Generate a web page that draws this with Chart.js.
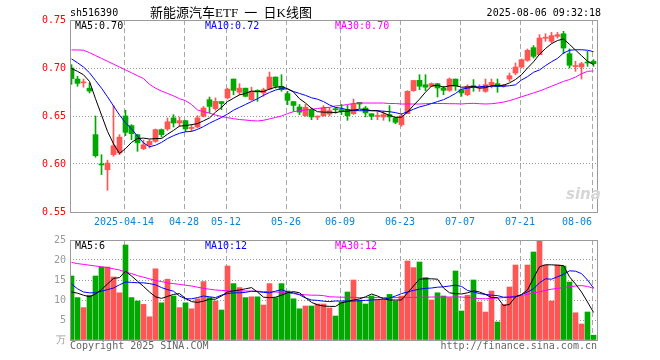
<!DOCTYPE html>
<html>
<head>
<meta charset="utf-8">
<script src="https://cdn.jsdelivr.net/npm/chart.js@4.4.1/dist/chart.umd.min.js"></script>
<style>
  html, body { margin: 0; padding: 0; background: #fff; }
  #wrap { position: relative; width: 660px; height: 360px; overflow: hidden; }
  canvas { position: absolute; left: 0; }
  .t { position: absolute; font: 10px/12px "DejaVu Sans Mono", monospace; white-space: pre; }
</style>
</head>
<body>
<div id="wrap">
  <canvas id="price" width="660" height="230" style="top:0"></canvas>
  <canvas id="vol" width="660" height="130" style="top:230px"></canvas>
  <div class="t" style="left:70px;top:7px;color:#000">sh516390</div>
  <div class="t" style="left:150px;top:4px;font:13px/17px 'Liberation Serif','Noto Sans CJK SC';word-spacing:3px;color:#000">新能源汽车ETF 一 日K线图</div>
  <div class="t" style="right:59px;top:7px;color:#000">2025-08-06 09:32:18</div>
  <div class="t" style="left:75px;top:20px;color:#000">MA5:0.70</div>
  <div class="t" style="left:205px;top:20px;color:#0000ff">MA10:0.72</div>
  <div class="t" style="left:335px;top:20px;color:#ff00ff">MA30:0.70</div>
  <div class="t" style="left:75px;top:240px;color:#000">MA5:6</div>
  <div class="t" style="left:205px;top:240px;color:#0000ff">MA10:12</div>
  <div class="t" style="left:335px;top:240px;color:#ff00ff">MA30:12</div>
  <div class="t" style="left:566px;top:186px;font:italic bold 15px/17px 'DejaVu Sans';color:#d6d6d6">sina</div>
  <div class="t" style="left:70px;top:340px;color:#666">Copyright 2025 SINA.COM</div>
  <div class="t" style="right:63px;top:340px;color:#666">http://finance.sina.com.cn</div>
</div>
<script>
// ---- data ----
const tickIdx    = [9, 19, 26, 36, 45, 55, 65, 75, 87];
const tickLabels = ['2025-04-14', '04-28', '05-12', '05-26', '06-09', '06-23', '07-07', '07-21', '08-06'];

const open = [0.700,0.6885,0.6845,0.679,0.6306,0.5995,0.594,0.6097,0.6115,0.650,
  0.640,0.6306,0.616,0.620,0.6236,0.6358,0.6365,0.648,0.6427,0.6452,
  0.637,0.6385,0.6497,0.667,0.6577,0.665,0.6688,0.6885,0.6747,0.679,
  0.667,0.6767,0.674,0.678,0.6906,0.681,0.6733,0.665,0.6594,0.6503,
  0.6566,0.6488,0.6503,0.652,0.657,0.6566,0.6566,0.6524,0.6642,0.6583,
  0.6524,0.6495,0.649,0.6514,0.648,0.641,0.6524,0.6764,0.6872,0.6826,
  0.681,0.6837,0.6792,0.6767,0.6885,0.6774,0.6722,0.6816,0.679,0.6757,
  0.6826,0.6837,0.681,0.6885,0.6948,0.701,0.708,0.7212,0.7139,0.731,
  0.7278,0.733,0.7357,0.7149,0.7015,0.701,0.7053,0.707];
const close = [0.689,0.684,0.685,0.676,0.6087,0.599,0.601,0.619,0.628,0.633,
  0.6316,0.622,0.620,0.6236,0.6358,0.6306,0.644,0.6427,0.6452,0.6365,
  0.6375,0.648,0.6583,0.660,0.6653,0.663,0.678,0.6767,0.679,0.6705,
  0.6757,0.675,0.6774,0.6906,0.681,0.6774,0.6663,0.661,0.654,0.659,
  0.649,0.649,0.6583,0.6555,0.6565,0.655,0.6504,0.6625,0.6625,0.6531,
  0.6497,0.6497,0.6514,0.649,0.6434,0.6503,0.6757,0.687,0.681,0.680,
  0.6837,0.6792,0.6767,0.6885,0.681,0.674,0.681,0.680,0.6792,0.6826,
  0.685,0.681,0.682,0.692,0.701,0.7087,0.7184,0.7121,0.7312,0.7312,
  0.7337,0.7347,0.7208,0.7028,0.7017,0.7045,0.7052,0.7045];
const high = [0.7035,0.6913,0.6885,0.6844,0.650,0.6097,0.604,0.661,0.6306,0.656,
  0.641,0.6306,0.625,0.6253,0.6365,0.6365,0.648,0.6514,0.649,0.6452,
  0.641,0.6503,0.660,0.6698,0.6688,0.665,0.679,0.6885,0.6837,0.679,
  0.680,0.6774,0.679,0.6958,0.6906,0.693,0.6757,0.665,0.662,0.662,
  0.6583,0.6503,0.6608,0.6585,0.659,0.662,0.661,0.6677,0.6642,0.660,
  0.6524,0.655,0.655,0.6608,0.649,0.6524,0.6764,0.6872,0.693,0.693,
  0.6845,0.6837,0.681,0.6896,0.6885,0.6774,0.6826,0.6879,0.6826,0.6885,
  0.6885,0.6885,0.683,0.6948,0.7052,0.7094,0.7198,0.7233,0.7347,0.7357,
  0.7371,0.7371,0.7382,0.7198,0.707,0.7059,0.7173,0.7087];
const low = [0.683,0.681,0.680,0.674,0.607,0.589,0.5726,0.608,0.6097,0.6295,
  0.6253,0.6132,0.615,0.6167,0.6226,0.628,0.635,0.6385,0.639,0.6337,
  0.634,0.6375,0.649,0.6531,0.656,0.6566,0.6677,0.6722,0.6722,0.670,
  0.6663,0.6653,0.6705,0.6774,0.679,0.6757,0.6618,0.655,0.6514,0.6497,
  0.6462,0.6462,0.6497,0.650,0.653,0.6514,0.6455,0.6517,0.658,0.649,
  0.6462,0.6462,0.6455,0.6445,0.642,0.6393,0.6524,0.6757,0.6774,0.6764,
  0.6805,0.6698,0.6722,0.6757,0.6767,0.6705,0.6712,0.6757,0.6757,0.6747,
  0.6792,0.6747,0.680,0.6861,0.6931,0.700,0.707,0.7104,0.7139,0.7278,
  0.726,0.7312,0.7149,0.700,0.6965,0.6885,0.7017,0.7017];

const ma5 = [0.6995,0.6965,0.693,0.686,0.668,0.651,0.634,0.621,0.611,0.616,
  0.6225,0.6265,0.627,0.626,0.6265,0.6265,0.631,0.635,0.6395,0.640,
  0.641,0.642,0.645,0.648,0.654,0.659,0.665,0.6685,0.672,0.6735,
  0.676,0.6755,0.6755,0.678,0.680,0.6805,0.6785,0.675,0.668,0.6635,
  0.658,0.6545,0.654,0.654,0.6535,0.6548,0.655,0.656,0.6572,0.6567,
  0.6556,0.6555,0.6533,0.6506,0.6486,0.6488,0.654,0.661,0.6675,0.6748,
  0.6812,0.682,0.6801,0.6815,0.6818,0.680,0.6802,0.6808,0.679,0.6795,
  0.6815,0.6816,0.682,0.6845,0.688,0.693,0.700,0.7064,0.7143,0.7203,
  0.7253,0.7286,0.7303,0.7246,0.7187,0.7129,0.707,0.7037];
const ma10 = [0.7095,0.7055,0.701,0.695,0.687,0.679,0.670,0.6605,0.651,0.643,
  0.6365,0.629,0.622,0.618,0.6195,0.6225,0.6265,0.6295,0.632,0.6335,
  0.634,0.636,0.639,0.6425,0.6455,0.6485,0.652,0.656,0.659,0.662,
  0.665,0.668,0.6715,0.6745,0.677,0.6785,0.678,0.6755,0.6735,0.6715,
  0.669,0.6675,0.665,0.6615,0.659,0.658,0.6565,0.656,0.6555,0.6555,
  0.6555,0.6555,0.655,0.6545,0.6535,0.652,0.6545,0.657,0.6595,0.661,
  0.663,0.665,0.667,0.670,0.6735,0.678,0.679,0.680,0.6805,0.681,
  0.681,0.681,0.681,0.6815,0.6825,0.6875,0.691,0.6955,0.698,0.7025,
  0.7065,0.710,0.7155,0.7185,0.719,0.719,0.7185,0.717];
const ma30 = [0.7188,0.7188,0.7185,0.716,0.713,0.710,0.707,0.704,0.701,0.698,
  0.695,0.692,0.689,0.683,0.679,0.676,0.6735,0.671,0.668,0.666,
  0.662,0.6563,0.6545,0.653,0.651,0.6495,0.6483,0.6472,0.6463,0.6458,
  0.6452,0.6448,0.6455,0.647,0.6485,0.650,0.6525,0.6545,0.6555,0.6563,
  0.657,0.6578,0.6587,0.659,0.6605,0.661,0.662,0.663,0.6635,0.6635,
  0.6635,0.6635,0.6635,0.663,0.663,0.6625,0.6625,0.6625,0.6625,0.6628,
  0.663,0.663,0.663,0.6628,0.6628,0.6625,0.663,0.6632,0.6628,0.6625,
  0.6628,0.6635,0.6645,0.666,0.668,0.670,0.672,0.674,0.676,0.6785,
  0.681,0.6835,0.686,0.688,0.6905,0.694,0.6965,0.697];

const vol = [16.0,10.6,8.1,11.2,16.0,18.25,18.25,15.75,11.8,23.75,
  10.6,9.75,8.9,5.8,17.8,9.3,15.2,11.0,8.1,9.3,
  7.8,10.3,14.6,10.6,9.75,7.5,18.5,14.1,13.1,10.6,
  10.8,10.8,8.75,14.1,10.6,14.1,12.25,10.3,7.8,8.5,
  8.5,9.0,9.0,8.0,6.0,9.5,12.0,15.0,10.0,9.0,
  11.0,10.0,10.0,11.4,9.75,11.0,19.75,18.1,19.5,15.6,
  10.0,11.8,11.0,10.6,17.25,7.25,11.2,15.0,9.5,7.0,
  12.25,4.5,8.9,13.25,18.75,11.0,18.75,22.0,24.75,18.75,
  9.75,18.75,18.5,14.5,6.8,4.0,7.0,1.2];
const vma5 = [12.0,11.7,11.2,10.8,11.5,12.6,14.0,15.4,15.6,17.2,
  16.0,14.7,13.4,12.0,10.8,10.4,10.9,11.4,11.6,10.4,
  9.6,9.4,9.7,10.2,10.2,11.0,12.0,12.3,12.5,12.8,
  13.1,12.0,10.7,10.6,10.7,11.2,11.8,12.1,11.8,10.6,
  9.4,8.8,8.5,8.4,8.4,9.3,9.6,10.0,10.3,10.8,
  11.5,11.0,10.3,10.0,10.0,10.0,11.8,13.5,15.2,15.3,
  15.3,15.2,13.0,11.8,11.6,11.5,11.8,12.3,12.0,11.4,
  10.6,10.6,8.6,8.9,10.8,11.4,12.5,15.5,18.3,18.8,
  18.8,18.7,18.6,15.8,14.0,12.0,9.5,6.9];
const vma10 = [14.0,12.8,12.0,11.8,11.8,12.2,12.6,13.0,13.8,14.5,
  14.4,14.3,14.3,14.1,13.8,13.1,12.6,12.2,11.0,10.3,
  10.3,10.6,11.0,10.8,10.6,11.2,11.6,11.8,11.8,11.9,
  12.2,12.1,11.9,11.8,12.2,12.6,12.0,11.8,11.3,10.5,
  10.0,9.9,9.7,9.6,9.75,9.75,9.75,9.75,9.8,9.9,
  10.0,10.1,10.2,10.5,11.0,11.6,12.0,12.4,12.7,12.9,
  13.0,13.2,13.3,13.5,13.7,13.4,12.4,12.0,11.6,11.4,
  11.2,11.1,10.7,10.7,10.8,11.3,12.0,12.8,14.3,15.3,
  15.2,15.8,16.4,17.3,17.2,16.6,15.0,13.0];
const vma30 = [19.4,19.1,18.9,18.7,18.5,18.3,18.1,17.8,17.5,17.0,
  16.6,16.1,15.7,15.3,14.9,14.6,14.3,14.1,13.9,13.7,
  13.5,13.2,12.9,12.7,12.5,12.4,12.3,12.25,12.25,12.25,
  12.2,12.2,12.1,12.1,12.0,11.9,11.7,11.6,11.4,11.3,
  11.2,11.2,11.1,10.8,10.75,10.7,10.7,10.65,10.6,10.6,
  10.6,10.6,10.6,10.6,10.6,10.6,10.6,10.65,10.7,10.7,
  10.75,10.75,10.75,10.75,10.75,10.75,10.6,10.5,10.35,10.3,
  10.4,10.5,10.6,10.8,11.0,11.1,11.4,11.8,12.0,12.4,
  12.7,12.9,13.1,13.3,13.5,13.6,13.4,12.9];

// ---- styling ----
const RED = '#ff5555', GREEN = '#00a800';
const FONT = { family: 'DejaVu Sans Mono', size: 10 };
const X_MIN = -0.25, X_MAX = close.length - 0.4167;
const colors = close.map((c, i) => c >= open[i] ? RED : GREEN);
const pts = arr => arr.map((v, i) => ({ x: i, y: v }));
const clear = 'rgba(0,0,0,0)';

const framePlugin = {
  id: 'frame',
  afterDraw(chart) {
    const a = chart.chartArea, ctx = chart.ctx;
    ctx.save();
    ctx.strokeStyle = '#9a9a9a';
    ctx.lineWidth = 1;
    ctx.setLineDash([]);
    ctx.strokeRect(a.left + 0.5, a.top + 0.5, a.right - a.left, a.bottom - a.top);
    ctx.restore();
  }
};

function xScale(showLabels, height) {
  return {
    type: 'linear', min: X_MIN, max: X_MAX, offset: false,
    afterBuildTicks: s => { s.ticks = tickIdx.map(i => ({ value: i - 0.25 })); },
    afterFit: s => { s.height = height; },
    ticks: {
      display: showLabels, autoSkip: false, maxRotation: 0, padding: 4,
      color: '#0a84d6', font: FONT,
      callback: (v, idx) => idx === tickLabels.length - 1 ? tickLabels[idx] + '     ' : tickLabels[idx]
    },
    grid: { color: '#a8a8a8', drawTicks: false, offset: false, lineWidth: 1 },
    border: { display: false, dash: [5, 3] }
  };
}

function lineDs(arr, color) {
  return { type: 'line', data: pts(arr), borderColor: color, borderWidth: 1,
           pointRadius: 0, tension: 0, order: 0 };
}

new Chart(document.getElementById('price'), {
  type: 'bar',
  data: {
    datasets: [
      lineDs(ma5, '#000000'),
      lineDs(ma10, '#0000ff'),
      lineDs(ma30, '#ff00ff'),
      { type: 'bar', data: open.map((o, i) => ({ x: i, y: [o, close[i]] })),
        backgroundColor: colors, barThickness: 5, grouped: false, minBarLength: 1, order: 1 },
      { type: 'bar', data: low.map((l, i) => ({ x: i, y: [l, high[i]] })),
        backgroundColor: colors, barThickness: 1, grouped: false, order: 2 }
    ]
  },
  options: {
    responsive: false, animation: false, devicePixelRatio: 1,
    layout: { padding: { top: 20, right: 63, left: 0, bottom: 0 } },
    plugins: { legend: { display: false }, tooltip: { enabled: false } },
    scales: {
      x: xScale(true, 18),
      y: {
        min: 0.55, max: 0.75,
        afterFit: s => { s.width = 70; },
        ticks: { stepSize: 0.05, color: '#ff0000', padding: 4, font: FONT,
                 callback: v => v.toFixed(2) },
        grid: { drawTicks: false, lineWidth: 1,
                color: c => (c.index === 0 || c.index === 4) ? clear : '#999999' },
        border: { display: false, dash: [1, 2] }
      }
    }
  },
  plugins: [framePlugin]
});

new Chart(document.getElementById('vol'), {
  type: 'bar',
  data: {
    datasets: [
      lineDs(vma5, '#000000'),
      lineDs(vma10, '#0000ff'),
      lineDs(vma30, '#ff00ff'),
      { type: 'bar', data: pts(vol), backgroundColor: colors, barThickness: 5,
        grouped: false, order: 1 }
    ]
  },
  options: {
    responsive: false, animation: false, devicePixelRatio: 1,
    layout: { padding: { top: 10, right: 63, left: 0, bottom: 0 } },
    plugins: { legend: { display: false }, tooltip: { enabled: false } },
    scales: {
      x: xScale(false, 20),
      y: {
        min: 0, max: 25,
        afterFit: s => { s.width = 70; },
        ticks: { stepSize: 5, color: '#9a9a9a', padding: 4, font: FONT,
                 callback: v => v === 0 ? '万' : String(v) },
        grid: { drawTicks: false, lineWidth: 1,
                color: c => (c.index === 0 || c.index === 5) ? clear : '#999999' },
        border: { display: false, dash: [1, 2] }
      }
    }
  },
  plugins: [framePlugin]
});
</script>
</body>
</html>
